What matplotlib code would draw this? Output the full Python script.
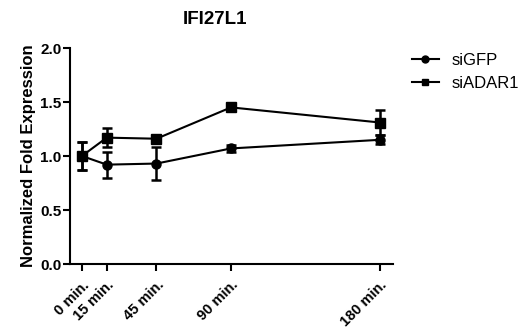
import matplotlib
matplotlib.use("Agg")
import matplotlib.pyplot as plt
from matplotlib.lines import Line2D

plt.rcParams['font.family'] = ['Liberation Sans', 'DejaVu Sans']

time_min = [0, 15, 45, 90, 180]
tick_labels = ["0 min.", "15 min.", "45 min.", "90 min.", "180 min."]
sigfp_mean = [1.00, 0.92, 0.93, 1.07, 1.15]
sigfp_err = [0.13, 0.12, 0.15, 0.03, 0.04]
siadar1_mean = [1.00, 1.17, 1.16, 1.45, 1.31]
siadar1_err = [0.13, 0.09, 0.00, 0.00, 0.12]
yticks = [0.0, 0.5, 1.0, 1.5, 2.0]

fig = plt.figure(figsize=(5.26, 3.32), dpi=100)
ax = fig.add_axes([70/526, 1-264/332, (393-70)/526, (264-48)/332])

common = dict(color='black', lw=1.5, capsize=3.6, capthick=1.8, elinewidth=1.8)
ax.errorbar(time_min, sigfp_mean, yerr=sigfp_err, marker='o', ms=6.5, **common)
ax.errorbar(time_min, siadar1_mean, yerr=siadar1_err, marker='s', ms=6.5, **common)

ax.set_xlim(-7.2, 187.8)
ax.set_ylim(0, 2.0)
ax.set_yticks(yticks)
ax.set_yticklabels([f"{v:.1f}" for v in yticks], fontweight='bold', fontsize=11)
ax.set_xticks(time_min)
ax.set_xticklabels(tick_labels, rotation=45, ha='right', rotation_mode='anchor',
                   fontweight='bold', fontsize=10.5)
for s in ['top', 'right']:
    ax.spines[s].set_visible(False)
for s in ['left', 'bottom']:
    ax.spines[s].set_linewidth(1.5)
ax.tick_params(axis='both', width=1.5, length=5, direction='out')
ax.tick_params(axis='x', pad=5)
ax.tick_params(axis='y', pad=1)
ax.set_ylabel('Normalized Fold Expression', fontweight='bold', fontsize=12, labelpad=3)

fig.text(215/526, 1-19/332, 'IFI27L1', ha='center', va='center', fontweight='bold', fontsize=13.5)

handles = [Line2D([], [], color='black', lw=1.5, marker='o', ms=5),
           Line2D([], [], color='black', lw=1.5, marker='s', ms=5)]
ax.legend(handles, ['siGFP', 'siADAR1'], loc='upper left',
          bbox_to_anchor=(412/526, 1-53/332), bbox_transform=fig.transFigure,
          frameon=False, fontsize=12, handlelength=1.6, handletextpad=0.75,
          labelspacing=0.5, borderaxespad=0, borderpad=0)

fig.savefig('out.png', dpi=100)
